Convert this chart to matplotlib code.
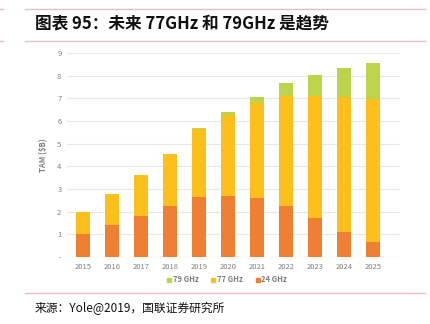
import matplotlib
matplotlib.use("Agg")
import matplotlib.pyplot as plt
from matplotlib.lines import Line2D
import numpy as np

plt.rcParams['font.family'] = ['Noto Sans CJK SC', 'DejaVu Sans']

years = ['2015', '2016', '2017', '2018', '2019', '2020', '2021', '2022', '2023', '2024', '2025']
ghz24 = [1.00, 1.40, 1.81, 2.23, 2.64, 2.70, 2.60, 2.24, 1.73, 1.12, 0.65]
ghz77 = [1.00, 1.39, 1.82, 2.33, 2.99, 3.57, 4.18, 4.88, 5.39, 5.94, 6.33]
ghz79 = [0.00, 0.00, 0.00, 0.00, 0.06, 0.12, 0.26, 0.56, 0.90, 1.27, 1.59]
yticks = [0, 1, 2, 3, 4, 5, 6, 7, 8, 9]
ytick_labels = ['-', '1', '2', '3', '4', '5', '6', '7', '8', '9']

c24 = '#EE7F33'
c77 = '#FDBF1B'
c79 = '#BDD34B'

fig = plt.figure(figsize=(4.31, 3.24), dpi=100)
W, H = 431, 324
ax = fig.add_axes([67 / W, 1 - 257 / H, (400 - 67) / W, (257 - 53) / H])

x = np.arange(len(years))
b24 = np.array(ghz24)
b77 = np.array(ghz77)
b79 = np.array(ghz79)
ax.bar(x, b24, width=0.49, color=c24, zorder=3)
ax.bar(x, b77, width=0.49, bottom=b24, color=c77, zorder=3)
ax.bar(x, b79, width=0.49, bottom=b24 + b77, color=c79, zorder=3)

ax.set_xlim(-0.55, 10.93)
ax.set_ylim(0, 9)
ax.set_yticks(yticks)
ax.set_yticklabels(ytick_labels)
ax.set_xticks(x)
ax.set_xticklabels(years)
ax.tick_params(axis='both', length=0, labelsize=5.5, colors='#808080')
ax.tick_params(axis='x', pad=4)
ax.tick_params(axis='y', pad=4)
ax.grid(axis='y', color='#E8E8E8', linewidth=0.8, zorder=0)
for s in ax.spines.values():
    s.set_visible(False)
ax.axhline(0, color='#D9D9D9', linewidth=0.8, zorder=2)
ax.set_ylabel('TAM ($B)', fontsize=5.5, color='#7F7F7F', fontweight='bold', labelpad=6)

handles = [Line2D([], [], marker='s', linestyle='', color=c, markersize=3) for c in (c79, c77, c24)]
fig.legend(handles, ['79 GHz', '77 GHz', '24 GHz'], loc='center', bbox_to_anchor=(227 / W, 1 - 280 / H),
           ncol=3, frameon=False, prop={'size': 5.5, 'weight': 'bold'}, labelcolor='#7F7F7F',
           handlelength=0.6, handletextpad=0.2, columnspacing=1.6)

pink = '#F2B8C2'
fig.add_artist(Line2D([25 / W, 425 / W], [1 - 9 / H, 1 - 9 / H], color=pink, linewidth=1.0))
fig.add_artist(Line2D([25 / W, 425 / W], [1 - 41 / H, 1 - 41 / H], color=pink, linewidth=1.0))
fig.add_artist(Line2D([0, 3 / W], [1 - 9 / H, 1 - 9 / H], color=pink, linewidth=1.0))
fig.add_artist(Line2D([0, 3 / W], [1 - 41 / H, 1 - 41 / H], color=pink, linewidth=1.0))
fig.add_artist(Line2D([25 / W, 425 / W], [1 - 293 / H, 1 - 293 / H], color=pink, linewidth=1.0))

fig.text(35 / W, 1 - 24 / H, '图表 95：未来 77GHz 和 79GHz 是趋势', fontsize=12, fontweight='bold',
         color='#111111', va='center', ha='left')
fig.text(35 / W, 1 - 308 / H, '来源：Yole@2019，国联证券研究所', fontsize=8.5, color='#111111',
         va='center', ha='left')

fig.savefig('out.png', dpi=100)
